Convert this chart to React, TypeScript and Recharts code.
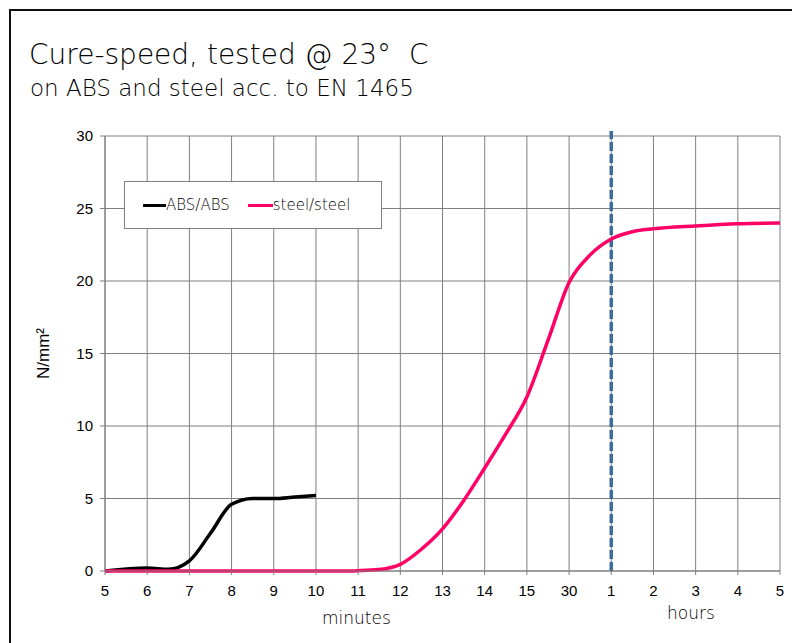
import {
  LineChart,
  Line,
  XAxis,
  YAxis,
  CartesianGrid,
  ReferenceLine,
} from "recharts";

// x tick labels, one per category slot (index 0..16)
const xLabels = ["5", "6", "7", "8", "9", "10", "11", "12", "13", "14", "15", "30", "1", "2", "3", "4", "5"];
const yTicks = [0, 5, 10, 15, 20, 25, 30];

// ABS/ABS readings (position = category index)
const absPos = [0, 1, 1.5, 2, 2.5, 3, 3.5, 4, 4.5, 5];
const absVal = [0, 0.2, 0.12, 0.7, 2.6, 4.6, 5.0, 5.0, 5.1, 5.2];

// steel/steel readings
const steelPos = [0, 1, 2, 3, 4, 5, 5.7, 6, 6.5, 7, 7.5, 8, 8.5, 9, 9.5, 10, 10.5, 11, 11.5, 12, 12.5, 13, 14, 15, 16];
const steelVal = [0, 0, 0, 0, 0, 0, 0, 0.02, 0.1, 0.46, 1.5, 2.9, 4.85, 7.1, 9.45, 12.0, 15.9, 19.9, 21.8, 22.9, 23.4, 23.6, 23.8, 23.95, 24];

const absData = absPos.map((x, i) => ({ x, v: absVal[i] }));
const steelData = steelPos.map((x, i) => ({ x, v: steelVal[i] }));

const GRID = "#7f7f7f";
const PINK = "#ff0066";
const BLUE = "#3d6b9c";
const tickFont = { fontFamily: "Liberation Sans, Arial", fontSize: 15, fill: "#000" };
const gothic = "'DejaVu Sans', sans-serif";

const LegendBox = () => (
  <div
    style={{
      position: "absolute",
      left: 124,
      top: 181,
      width: 258,
      height: 48,
      border: "1px solid #808080",
      background: "#fff",
      display: "flex",
      alignItems: "center",
      fontFamily: gothic,
      fontWeight: 200,
      fontSize: 15,
      color: "#000",
      boxSizing: "border-box",
    }}
  >
    <span style={{ display: "inline-block", width: 23, height: 3, background: "#000", marginLeft: 18 }} />
    <span>ABS/ABS</span>
    <span style={{ display: "inline-block", width: 25, height: 3, background: PINK, marginLeft: 18 }} />
    <span>steel/steel</span>
  </div>
);

export default function App() {
  return (
    <div style={{ position: "absolute", left: 0, top: 0, width: 792, height: 643, background: "#fff", overflow: "hidden" }}>
      <div
        style={{
          position: "absolute",
          left: 9,
          top: 9,
          width: 800,
          height: 700,
          borderTop: "2px solid #111",
          borderLeft: "2px solid #111",
        }}
      />
      <div style={{ position: "absolute", left: 29, top: 38, fontFamily: gothic, fontWeight: 200, fontSize: 28, color: "#000", whiteSpace: "pre" }}>
        {"Cure-speed, tested @ 23°  C"}
      </div>
      <div style={{ position: "absolute", left: 30, top: 75, fontFamily: gothic, fontWeight: 200, fontSize: 23, color: "#000", whiteSpace: "pre" }}>
        on ABS and steel acc. to EN 1465
      </div>
      <div style={{ position: "absolute", left: 0, top: 0 }}>
        <LineChart width={792} height={643} margin={{ top: 136, right: 12, bottom: 42, left: 0 }}>
          <CartesianGrid stroke={GRID} strokeWidth={1} />
          <XAxis
            dataKey="x"
            type="number"
            domain={[0, 16]}
            ticks={xLabels.map((_, i) => i)}
            tickFormatter={(v: number) => xLabels[v]}
            interval={0}
            allowDuplicatedCategory={false}
            stroke={GRID}
            tickSize={4}
            tick={tickFont}
            tickMargin={10}
            height={30}
          />
          <YAxis
            type="number"
            domain={[0, 30]}
            ticks={yTicks}
            width={105}
            stroke={GRID}
            tickSize={5}
            tick={tickFont}
            tickMargin={7}
            label={{
              value: "N/mm²",
              angle: -90,
              position: "insideLeft",
              dx: 38,
              style: { fontFamily: "Liberation Sans, Arial", fontSize: 17, fill: "#000", textAnchor: "middle" },
            }}
          />
          <ReferenceLine
            segment={[
              { x: 12, y: 0 },
              { x: 12, y: 30.35 },
            ]}
            ifOverflow="visible"
            stroke={BLUE}
            strokeWidth={3.5}
            strokeDasharray="9 3"
          />
          <Line
            data={absData}
            dataKey="v"
            name="ABS/ABS"
            type="monotone"
            stroke="#000"
            strokeWidth={3.5}
            dot={false}
            isAnimationActive={false}
          />
          <Line
            data={steelData}
            dataKey="v"
            name="steel/steel"
            type="monotone"
            stroke={PINK}
            strokeWidth={3.5}
            dot={false}
            isAnimationActive={false}
          />
        </LineChart>
      </div>
      <LegendBox />
      <div style={{ position: "absolute", left: 322, top: 608, fontFamily: gothic, fontWeight: 200, fontSize: 17, color: "#000" }}>
        minutes
      </div>
      <div style={{ position: "absolute", left: 667, top: 603, fontFamily: gothic, fontWeight: 200, fontSize: 17, color: "#000" }}>
        hours
      </div>
    </div>
  );
}
